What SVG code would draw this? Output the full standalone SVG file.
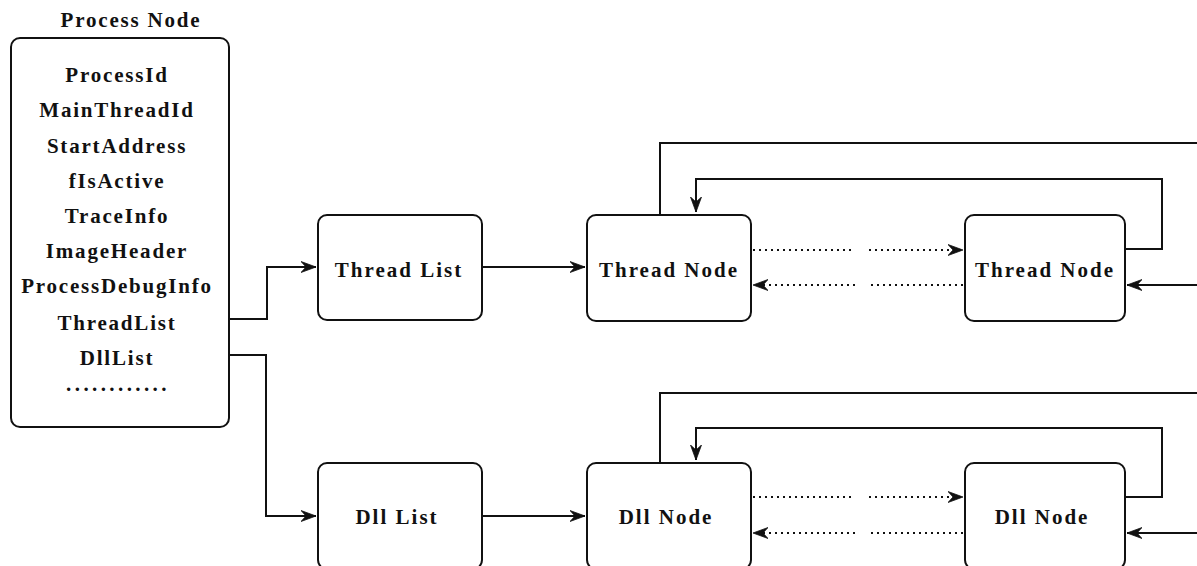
<svg xmlns="http://www.w3.org/2000/svg" width="1197" height="566" viewBox="0 0 1197 566">
<defs>
<style>
text{font-family:"Liberation Serif","Times New Roman",serif;font-weight:bold;font-size:21px;fill:#111;text-anchor:middle;letter-spacing:1.8px}
.lbl{letter-spacing:2px}
.box{fill:#fff;stroke:#111;stroke-width:2}
.ln{fill:none;stroke:#111;stroke-width:2}
.dot{fill:none;stroke:#111;stroke-width:2;stroke-dasharray:2 4}
</style>
<marker id="ah" markerUnits="userSpaceOnUse" markerWidth="17" markerHeight="13" refX="15" refY="6.5" orient="auto">
<path d="M0,1 L15,6.5 L0,12 L5,6.5 Z" fill="#111" stroke="#111" stroke-width="0.8" stroke-linejoin="miter"/>
</marker>
</defs>
<rect width="1197" height="566" fill="#fff"/>

<g id="process-node">
<text x="131" y="27">Process Node</text>
<rect class="box" x="11" y="38" width="218" height="389" rx="9"/>
<text x="117" y="82">ProcessId</text>
<text x="117" y="117">MainThreadId</text>
<text x="117" y="153">StartAddress</text>
<text x="117" y="188">fIsActive</text>
<text x="117" y="223">TraceInfo</text>
<text x="117" y="258">ImageHeader</text>
<text x="117" y="293">ProcessDebugInfo</text>
<text x="117" y="330">ThreadList</text>
<text x="117" y="365">DllList</text>
<text x="118" y="391" style="letter-spacing:3.4px">............</text>
</g>

<g id="thread-list">
<rect class="box" x="318" y="215" width="164" height="105" rx="9"/>
<text class="lbl" x="399" y="277">Thread List</text>
</g>
<g id="thread-node-1">
<rect class="box" x="587" y="215" width="164" height="106" rx="9"/>
<text class="lbl" x="669" y="277">Thread Node</text>
</g>
<g id="thread-node-2">
<rect class="box" x="965" y="215" width="160" height="106" rx="9"/>
<text class="lbl" x="1045" y="277">Thread Node</text>
</g>

<g id="dll-list">
<rect class="box" x="318" y="463" width="164" height="106" rx="9"/>
<text class="lbl" x="397" y="524">Dll List</text>
</g>
<g id="dll-node-1">
<rect class="box" x="587" y="463" width="164" height="106" rx="9"/>
<text class="lbl" x="666" y="524">Dll Node</text>
</g>
<g id="dll-node-2">
<rect class="box" x="965" y="463" width="160" height="106" rx="9"/>
<text class="lbl" x="1042" y="524">Dll Node</text>
</g>

<g id="connectors">
<path class="ln" d="M229,319 H267 V267 H316" marker-end="url(#ah)"/>
<path class="ln" d="M229,355 H266 V516 H316" marker-end="url(#ah)"/>
<path class="ln" d="M482,267 H585" marker-end="url(#ah)"/>
<path class="ln" d="M482,516 H585" marker-end="url(#ah)"/>

<path class="ln" d="M660,215 V143 H1197"/>
<path class="ln" d="M1125,249 H1162 V179 H696 V212" marker-end="url(#ah)"/>
<path class="dot" d="M753,250 H855"/>
<path class="dot" d="M869,250 H963" marker-end="url(#ah)"/>
<path class="dot" d="M963,285 H869"/>
<path class="dot" d="M855,285 H753" marker-end="url(#ah)"/>
<path class="ln" d="M1197,285 H1127" marker-end="url(#ah)"/>

<path class="ln" d="M660,463 V393 H1197"/>
<path class="ln" d="M1125,497 H1162 V428 H696 V460" marker-end="url(#ah)"/>
<path class="dot" d="M753,497 H855"/>
<path class="dot" d="M869,497 H963" marker-end="url(#ah)"/>
<path class="dot" d="M963,533 H869"/>
<path class="dot" d="M855,533 H753" marker-end="url(#ah)"/>
<path class="ln" d="M1197,533 H1127" marker-end="url(#ah)"/>
</g>
</svg>
